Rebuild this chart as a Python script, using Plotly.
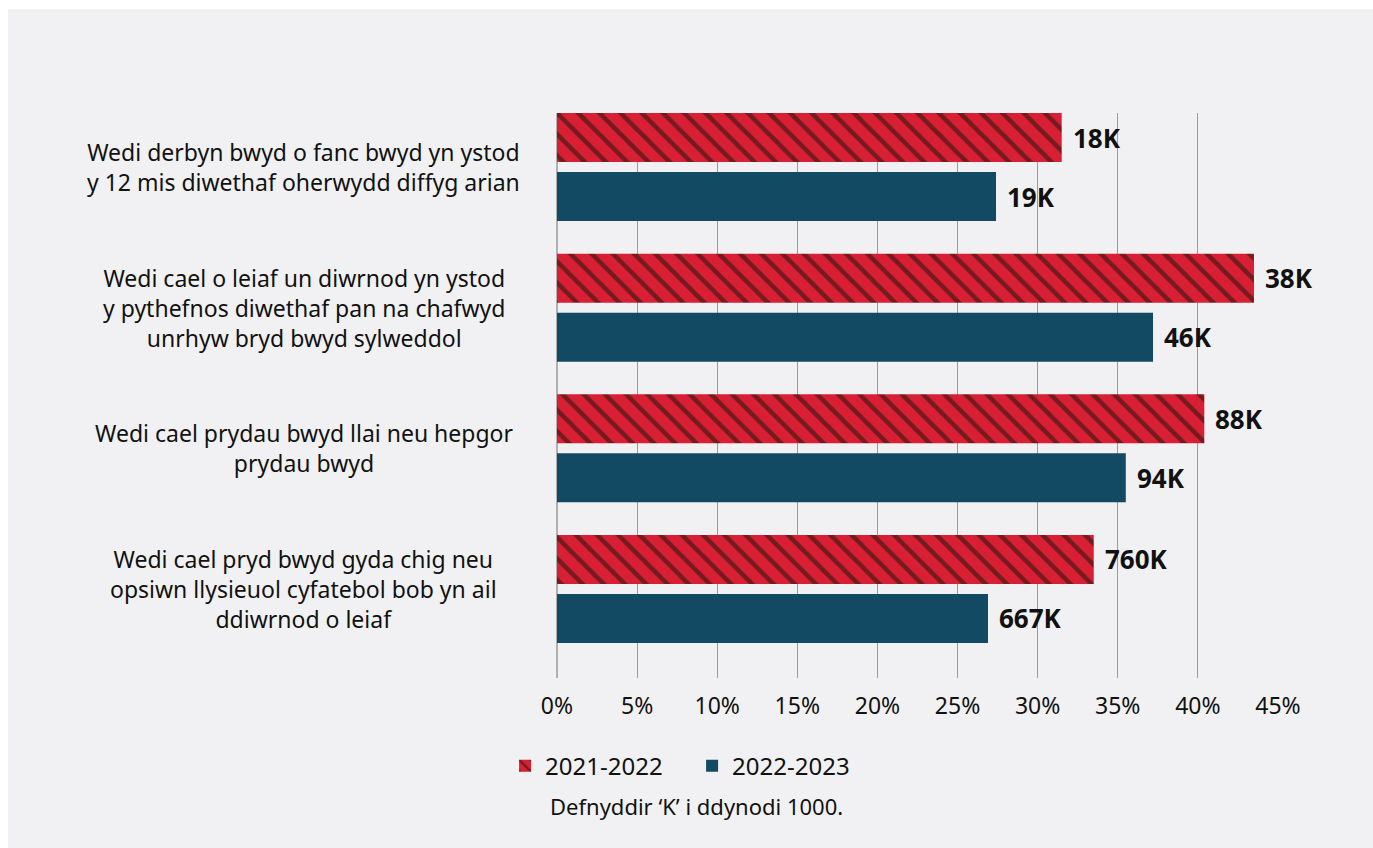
import plotly.graph_objects as go

categories = [
    "Wedi derbyn bwyd o fanc bwyd yn ystod<br>y 12 mis diwethaf oherwydd diffyg arian",
    "Wedi cael o leiaf un diwrnod yn ystod<br>y pythefnos diwethaf pan na chafwyd<br>unrhyw bryd bwyd sylweddol",
    "Wedi cael prydau bwyd llai neu hepgor<br>prydau bwyd",
    "Wedi cael pryd bwyd gyda chig neu<br>opsiwn llysieuol cyfatebol bob yn ail<br>ddiwrnod o leiaf",
]
series_names = ["2021-2022", "2022-2023"]
values_2122 = [31.5, 43.5, 40.4, 33.5]
values_2223 = [27.4, 37.2, 35.5, 26.9]
labels_2122 = ["18K", "38K", "88K", "760K"]
labels_2223 = ["19K", "46K", "94K", "667K"]
tick_vals = [0, 5, 10, 15, 20, 25, 30, 35, 40, 45]
tick_text = [f"{v}%" for v in tick_vals]
note = "Defnyddir ‘K’ i ddynodi 1000."

FONT = "Noto Sans"
RED = "#d91f33"
RED_DARK = "#751a1e"
BLUE = "#134a63"
BG = "#f1f1f3"

cat_ids = [f"c{i}" for i in range(len(categories))]

fig = go.Figure()
fig.add_trace(go.Bar(
    name=series_names[0], y=cat_ids, x=values_2122, orientation="h",
    marker=dict(color=RED, line=dict(width=0),
                pattern=dict(shape="\\", fgcolor=RED_DARK, bgcolor=RED,
                             size=15, solidity=0.3, fillmode="replace")),
))
fig.add_trace(go.Bar(
    name=series_names[1], y=cat_ids, x=values_2223, orientation="h",
    marker=dict(color=BLUE, line=dict(width=0)),
))

annotations = []
for cid, cat in zip(cat_ids, categories):
    annotations.append(dict(
        x=-0.351, xref="paper", y=cid, yref="y", text=cat, showarrow=False,
        xanchor="center", yanchor="middle", align="center",
        font=dict(family=FONT, size=23, color="#111111"),
    ))
for vals, labs, shift in ((values_2122, labels_2122, 29.5), (values_2223, labels_2223, -29.5)):
    for cid, v, lab in zip(cat_ids, vals, labs):
        annotations.append(dict(
            x=v, xref="x", y=cid, yref="y", text=f"<b>{lab}</b>", showarrow=False,
            xanchor="left", yanchor="middle", xshift=9, yshift=shift,
            font=dict(family=FONT, size=26, color="#111111"),
        ))
annotations.append(dict(
    x=0.194, xref="paper", y=-0.2265, yref="paper", text=note, showarrow=False,
    xanchor="center", yanchor="middle",
    font=dict(family=FONT, size=22, color="#111111"),
))

# white page frame at the top and left edges
frame = [
    dict(type="rect", xref="paper", yref="paper", x0=-0.8, x1=1.3, y0=1.1841, y1=1.25,
         fillcolor="white", line=dict(width=0), layer="below"),
    dict(type="rect", xref="paper", yref="paper", x0=-0.8, x1=-0.7615, y0=-0.4, y1=1.25,
         fillcolor="white", line=dict(width=0), layer="below"),
]

fig.update_layout(
    width=1373, height=848,
    margin=dict(l=557, r=95, t=113, b=170),
    paper_bgcolor=BG, plot_bgcolor=BG,
    barmode="group", bargap=0.161, bargroupgap=0.17,
    font=dict(family=FONT, color="#111111"),
    showlegend=True,
    legend=dict(orientation="h", x=-0.072, y=-0.156, xanchor="left", yanchor="middle",
                font=dict(family=FONT, size=24, color="#111111"),
                bgcolor="rgba(0,0,0,0)", itemwidth=30, entrywidth=142,
                traceorder="normal"),
    annotations=annotations,
    shapes=frame,
)
fig.update_xaxes(
    range=[0, 45], tickvals=tick_vals, ticktext=tick_text,
    showgrid=True, gridcolor="#9a9a9a", gridwidth=1.2,
    zeroline=True, zerolinecolor="#b0b0b0", zerolinewidth=2,
    showline=False, ticks="", ticklabelstandoff=12,
    tickfont=dict(family=FONT, size=23, color="#111111"),
)
fig.update_yaxes(
    type="category", categoryorder="array", categoryarray=cat_ids,
    range=[3.633, -0.384], showticklabels=False, showgrid=False,
    zeroline=False, showline=False, ticks="",
)

fig.write_html("out.html", config={"displayModeBar": False},
               post_script="document.body.style.margin='0';document.body.style.overflow='hidden';")
